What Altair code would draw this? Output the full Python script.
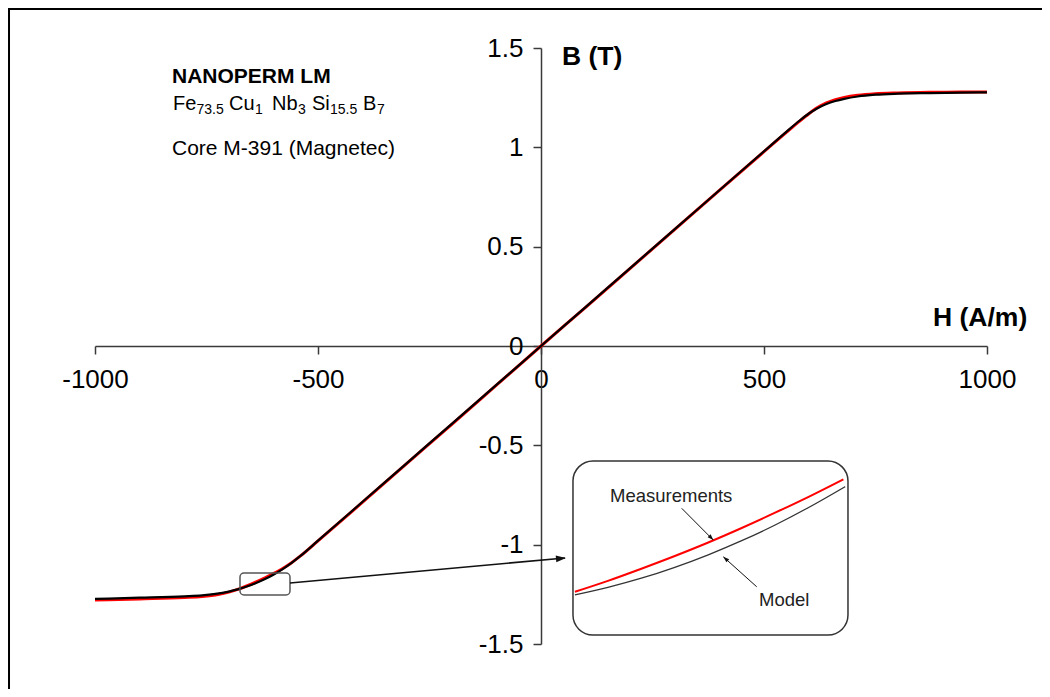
import altair as alt
import pandas as pd

FONT = "Liberation Sans"

# ---------------- data ----------------
H = [-1000, -900, -800, -760, -730, -700, -680, -660, -640, -620, -600, -580, -560, -540,
     -500, -400, -300, -200, -100, 0, 100, 200, 300, 400, 500,
     550, 580, 600, 620, 640, 660, 680, 710, 750, 800, 870, 940, 1000]
B_model = [-1.273, -1.267, -1.260, -1.2555, -1.248, -1.236, -1.225, -1.211, -1.194, -1.174,
           -1.151, -1.124, -1.093, -1.058,
           -0.980, -0.784, -0.588, -0.392, -0.196, 0.0, 0.196, 0.392, 0.588, 0.784, 0.980,
           1.078, 1.135, 1.169, 1.197, 1.218, 1.233, 1.244, 1.256, 1.265, 1.270, 1.273, 1.275, 1.277]
B_meas = [-1.279, -1.273, -1.266, -1.261, -1.253, -1.239, -1.225, -1.208, -1.189, -1.168,
          -1.146, -1.121, -1.092, -1.058,
          -0.981, -0.786, -0.590, -0.394, -0.197, 0.0, 0.195, 0.391, 0.587, 0.783, 0.978,
          1.075, 1.132, 1.168, 1.200, 1.224, 1.240, 1.251, 1.262, 1.270, 1.274, 1.277, 1.278, 1.279]

X_TICKS = [-1000, -500, 0, 500, 1000]
Y_TICKS = [-1.5, -1, -0.5, 0, 0.5, 1, 1.5]

# zoomed detail drawn inside the inset (placed in main-chart units)
INSET_MEAS_H = [76, 150, 225, 300, 375, 450, 525, 600, 678]
INSET_MEAS_B = [-1.237, -1.182, -1.121, -1.057, -0.989, -0.916, -0.839, -0.759, -0.671]
INSET_MODEL_H = [76, 150, 225, 300, 375, 450, 525, 600, 682]
INSET_MODEL_B = [-1.253, -1.215, -1.169, -1.114, -1.051, -0.980, -0.901, -0.813, -0.708]

# ---------------- scales / axes ----------------
xs = alt.Scale(domain=[-1000, 1000], nice=False, zero=False)
ys = alt.Scale(domain=[-1.5, 1.5], nice=False, zero=False)

xaxis = alt.Axis(values=X_TICKS, orient="bottom", offset=-298, grid=False,
                 domainColor="#3a3a3a", domainWidth=1.5, tickColor="#3a3a3a",
                 tickWidth=1.5, tickSize=8, labelFont=FONT, labelFontSize=26,
                 labelColor="#000000", labelPadding=12, title=None,
                 labelExpr="'' + datum.value", labelOverlap=False, labelFlush=False)
yaxis = alt.Axis(values=Y_TICKS, orient="left", offset=-446, grid=False,
                 domainColor="#3a3a3a", domainWidth=1.5, tickColor="#3a3a3a",
                 tickWidth=1.5, tickSize=8, labelFont=FONT, labelFontSize=26,
                 labelColor="#000000", labelPadding=10, title=None,
                 labelExpr="'' + datum.value", labelOverlap=False, labelFlush=False)


def X(f="H"):
    return alt.X(f"{f}:Q", scale=xs, axis=xaxis)


def Y(f="B"):
    return alt.Y(f"{f}:Q", scale=ys, axis=yaxis)


main_meas = pd.DataFrame({"H": H, "B": B_meas})
main_model = pd.DataFrame({"H": H, "B": B_model})

meas_line = alt.Chart(main_meas).mark_line(color="#ff0000", strokeWidth=3, interpolate="monotone").encode(x=X(), y=Y())
model_line = alt.Chart(main_model).mark_line(color="#000000", strokeWidth=2.2, interpolate="monotone").encode(x=X(), y=Y())

# frame lines (top & left) of the figure
frame = pd.DataFrame({"H": [-1195.1, -1192.8], "H2": [1123.4, -1192.8],
                      "B": [1.696, 1.701], "B2": [1.696, -1.727]})
frame_layer = alt.Chart(frame).mark_rule(color="#000000", strokeWidth=2).encode(
    x=X(), x2="H2:Q", y=Y(), y2="B2:Q")

# small selection box on the curve
sel_box = pd.DataFrame({"H": [-674.9], "H2": [-562.8], "B": [-1.143], "B2": [-1.253]})
sel_layer = alt.Chart(sel_box).mark_rect(fillOpacity=0, stroke="#555555", strokeWidth=1.5,
                                         cornerRadius=4).encode(x=X(), x2="H2:Q", y=Y(), y2="B2:Q")

# inset box
inset_box = pd.DataFrame({"H": [71.7], "H2": [688.3], "B": [-0.579], "B2": [-1.455]})
inset_layer = alt.Chart(inset_box).mark_rect(fill="#ffffff", stroke="#333333", strokeWidth=1.5,
                                             cornerRadius=20).encode(x=X(), x2="H2:Q", y=Y(), y2="B2:Q")

inset_meas = alt.Chart(pd.DataFrame({"H": INSET_MEAS_H, "B": INSET_MEAS_B})).mark_line(
    color="#ff0000", strokeWidth=2, interpolate="monotone").encode(x=X(), y=Y())
inset_model = alt.Chart(pd.DataFrame({"H": INSET_MODEL_H, "B": INSET_MODEL_B})).mark_line(
    color="#333333", strokeWidth=1.3, interpolate="monotone").encode(x=X(), y=Y())

# arrows (line segments + heads)
arrows = pd.DataFrame({"H": [-562.8, 315.5, 483.7], "B": [-1.193, -0.817, -1.212],
                       "H2": [53.8, 386.4, 408.8], "B2": [-1.067, -0.977, -1.061],
                       "w": [1.6, 1.0, 1.0]})
arrow_lines = alt.Chart(arrows).mark_rule(color="#111111").encode(
    x=X(), x2="H2:Q", y=Y(), y2="B2:Q", strokeWidth=alt.StrokeWidth("w:Q", scale=None))
heads = pd.DataFrame({"H": [56.0, 386.4, 408.8], "B": [-1.067, -0.977, -1.061],
                      "ang": [354.8, 45, 222], "sz": [100, 36, 36]})
head_layer = alt.Chart(heads).mark_point(shape="M0,0 L-2,-0.7 L-2,0.7 Z", filled=True,
                                         color="#111111", opacity=1).encode(
    x=X(), y=Y(), angle=alt.Angle("ang:Q", scale=None), size=alt.Size("sz:Q", scale=None))

# ---------------- text ----------------
def text_layer(df, size, weight="normal", baseline="alphabetic", color="#000000"):
    return alt.Chart(df).mark_text(font=FONT, fontSize=size, fontWeight=weight, align="left",
                                   baseline=baseline, color=color).encode(x=X(), y=Y(), text="t:N")


titles = pd.DataFrame({"H": [47.1, 879.0], "B": [1.414, 0.101], "t": ["B (T)", "H (A/m)"]})
title_layer = text_layer(titles, 26.5, "bold")

head_txt = pd.DataFrame({"H": [-827.4], "B": [1.324], "t": ["NANOPERM LM"]})
head_layer_txt = text_layer(head_txt, 21, "bold")

formula_main = pd.DataFrame({"H": [-825.1, -699.5, -603.1, -513.4, -399.1],
                             "B": [1.188] * 5, "t": ["Fe", "Cu", "Nb", "Si", "B"]})
formula_sub = pd.DataFrame({"H": [-772.4, -641.2, -544.8, -473.1, -367.7],
                            "B": [1.168] * 5, "t": ["73.5", "1", "3", "15.5", "7"]})
core_txt = pd.DataFrame({"H": [-827.4], "B": [0.961], "t": ["Core M-391 (Magnetec)"]})

inset_txt = pd.DataFrame({"H": [154.7, 488.8], "B": [-0.755, -1.279], "t": ["Measurements", "Model"]})

chart = alt.layer(
    frame_layer,
    inset_layer,
    meas_line,
    model_line,
    sel_layer,
    inset_meas,
    inset_model,
    arrow_lines,
    head_layer,
    title_layer,
    head_layer_txt,
    text_layer(formula_main, 20),
    text_layer(formula_sub, 14),
    text_layer(core_txt, 21),
    text_layer(inset_txt, 18.5, baseline="middle", color="#222222"),
).properties(
    width=892, height=596,
    autosize=alt.AutoSizeParams(type="none"),
    padding={"left": 87, "top": 40, "right": 55, "bottom": 45},
    background="#ffffff",
).configure_view(strokeWidth=0)

chart.save("out.html", embed_options={"renderer": "svg", "actions": False})
